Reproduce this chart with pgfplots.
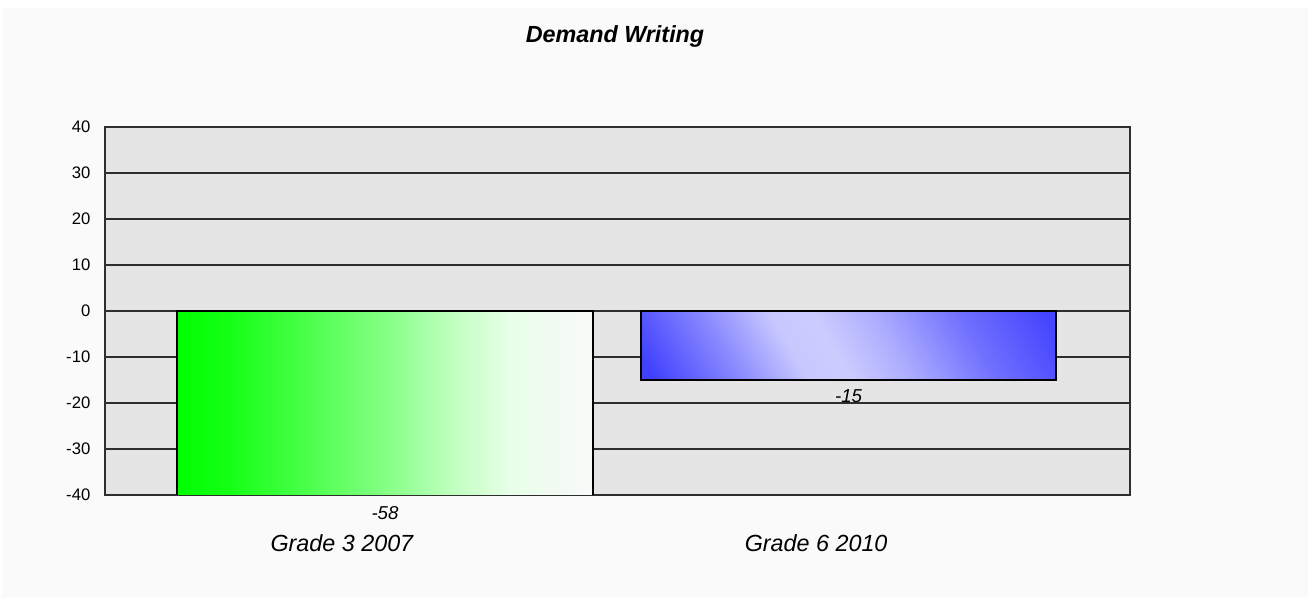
\documentclass[border=0pt]{standalone}
\usepackage{pgfplots}
\pgfplotsset{compat=1.18}
\usepackage{fontspec}
\setmainfont{Liberation Sans}
\definecolor{bgout}{HTML}{FAFAFA}
\definecolor{plotbg}{HTML}{E5E5E5}
\definecolor{gridc}{HTML}{2E2E2E}
\definecolor{g0}{HTML}{00FF00}
\pgfdeclarehorizontalshading{greenbar}{100bp}{%
  color(0bp)=(g0); color(25bp)=(g0); color(31bp)=(g0!92!white);
  color(40bp)=(g0!72!white); color(50bp)=(g0!48!white);
  color(58bp)=(g0!25!white); color(65bp)=(g0!9!white);
  color(70bp)=(bgout!96!g0); color(75bp)=(bgout); color(100bp)=(bgout)}
\definecolor{b1}{HTML}{4040FF}
\definecolor{b2}{HTML}{8888FF}
\definecolor{b3}{HTML}{C8C8FF}
\definecolor{b4}{HTML}{CCCCFF}
\definecolor{b5}{HTML}{ADADFF}
\definecolor{b6}{HTML}{7070FF}
\definecolor{b7}{HTML}{4545FF}
\pgfdeclarehorizontalshading{bluebar}{100bp}{%
  color(0bp)=(b1); color(17.5bp)=(b1); color(30.5bp)=(b2);
  color(40.9bp)=(b3); color(47.4bp)=(b4); color(56.5bp)=(b5);
  color(69.5bp)=(b6); color(82.5bp)=(b7); color(100bp)=(b7)}
\pgfplotstableread{
x y
0 -58
}\gradeA
\pgfplotstableread{
x y
1 -15
}\gradeB
\begin{document}
\begin{tikzpicture}
\fill[white] (0,0) rectangle (981.75pt,-448.5pt);
\fill[bgout] (1.5pt,-6pt) rectangle (981pt,-448.5pt);
\node[font=\fontsize{17.5}{20}\selectfont\bfseries\itshape, anchor=base] at (461.25pt,-32pt) {Demand Writing};
\begin{axis}[
  at={(78.75pt,-95.25pt)}, anchor=north west,
  scale only axis, width=768.75pt, height=276pt,
  xmin=-0.604, xmax=1.607, ymin=-40, ymax=40,
  ytick={-40,-30,...,40},
  xtick=\empty,
  ymajorgrids,
  grid style={gridc, line width=1.2pt},
  axis line style={gridc, line width=1.2pt},
  axis background/.style={fill=plotbg},
  major tick length=0pt,
  tick label style={font=\fontsize{12.5}{14}\selectfont},
  /pgf/number format/assume math mode=true,
  yticklabel style={xshift=-7.5pt},
  clip=true,
]
\addplot[ybar, bar shift=0pt, bar width=312pt, draw=black, line width=1.1pt, shading=greenbar] table[x=x,y=y] {\gradeA};
\addplot[ybar, bar shift=0pt, bar width=311.25pt, draw=black, line width=1.1pt, shading=bluebar, shading angle=30] table[x=x,y=y] {\gradeB};
\end{axis}
\begin{axis}[
  at={(78.75pt,-95.25pt)}, anchor=north west,
  scale only axis, width=768.75pt, height=276pt,
  xmin=-0.604, xmax=1.607, ymin=-40, ymax=40,
  hide axis, clip=false,
]
\node[font=\fontsize{14}{16}\selectfont\itshape, anchor=base, yshift=-18.75pt] at (axis cs:0,-40) {-58};
\node[font=\fontsize{14}{16}\selectfont\itshape, anchor=base, yshift=-17.25pt] at (axis cs:1,-15) {-15};
\node[font=\fontsize{17.5}{20}\selectfont\itshape, anchor=base, yshift=-42.75pt] at (axis cs:-0.093,-40) {Grade 3 2007};
\node[font=\fontsize{17.5}{20}\selectfont\itshape, anchor=base, yshift=-42.75pt] at (axis cs:0.930,-40) {Grade 6 2010};
\end{axis}
\end{tikzpicture}
\end{document}
